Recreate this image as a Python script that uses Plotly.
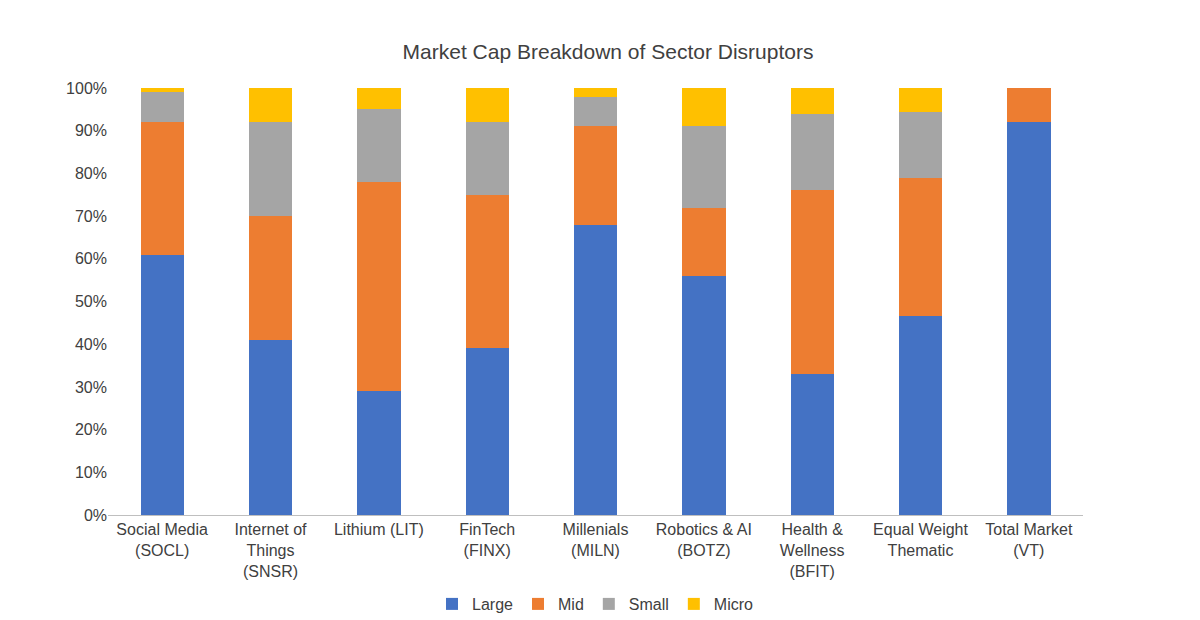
import plotly.graph_objects as go

categories = ['Social Media<br>(SOCL)', 'Internet of<br>Things<br>(SNSR)', 'Lithium (LIT)',
              'FinTech<br>(FINX)', 'Millenials<br>(MILN)', 'Robotics & AI<br>(BOTZ)',
              'Health &<br>Wellness<br>(BFIT)', 'Equal Weight<br>Thematic', 'Total Market<br>(VT)']
large = [61, 41, 29, 39, 68, 56, 33, 46.6, 92]
mid = [31, 29, 49, 36, 23, 16, 43, 32.3, 8]
small = [7, 22, 17, 17, 7, 19, 18, 15.5, 0]
micro = [1, 8, 5, 8, 2, 9, 6, 5.6, 0]

series = [('Large', large, '#4472C4'), ('Mid', mid, '#ED7D31'),
          ('Small', small, '#A5A5A5'), ('Micro', micro, '#FFC000')]

fig = go.Figure()
for name, vals, color in series:
    fig.add_trace(go.Bar(x=categories, y=[v / 100 for v in vals], name=name,
                         marker=dict(color=color, line=dict(width=0))))

fig.update_layout(
    barmode='stack',
    bargap=0.6,
    width=1200, height=620,
    paper_bgcolor='white', plot_bgcolor='white',
    font=dict(family='Liberation Sans, Arial', size=16, color='#404040'),
    title=dict(text='Market Cap Breakdown of Sector Disruptors', x=0.5, y=1 - 44 / 620,
               xanchor='center', yanchor='middle', font=dict(size=21, color='#404040')),
    margin=dict(l=100, r=125, t=80, b=113, autoexpand=False),
    legend=dict(orientation='h', x=0.5, xanchor='center', yref='container',
                y=1 - 596 / 620, yanchor='middle', traceorder='normal',
                font=dict(size=16)),
    showlegend=True,
)
fig.update_yaxes(range=[0, 1], tickformat='.0%', dtick=0.1, showgrid=False,
                 zeroline=False, ticks='', tickfont=dict(size=16))
fig.update_xaxes(showline=True, linecolor='#BFBFBF', linewidth=1, ticks='',
                 tickangle=0, tickfont=dict(size=16))

fig.write_html('out.html')
